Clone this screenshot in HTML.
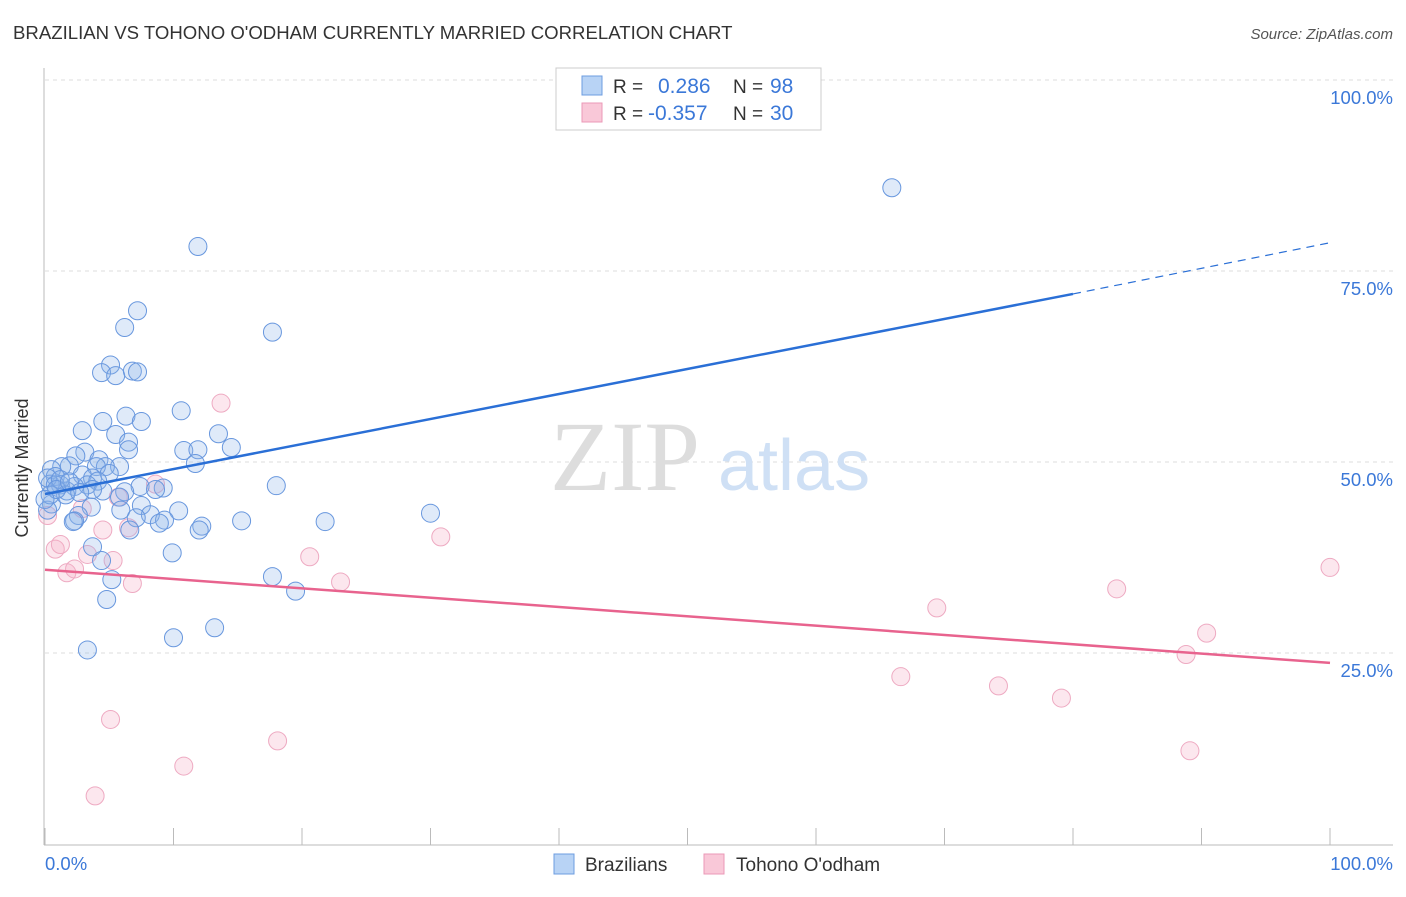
<!DOCTYPE html>
<html><head><meta charset="utf-8"><style>
body{margin:0;background:#fff;font-family:"Liberation Sans",sans-serif}
</style></head><body>
<svg width="1406" height="892" xmlns="http://www.w3.org/2000/svg" font-family="Liberation Sans, sans-serif">
<text x="13" y="39" font-size="18.6" fill="#333">BRAZILIAN VS TOHONO O'ODHAM CURRENTLY MARRIED CORRELATION CHART</text>
<text x="1393" y="39" font-size="15" fill="#555" font-style="italic" text-anchor="end">Source: ZipAtlas.com</text>
<g id="grid"></g>
<text x="700" y="490" font-size="100" fill="#ddd" text-anchor="end" font-family="Liberation Serif, serif">ZIP</text>
<text x="718" y="490" font-size="72" fill="#cfe0f5">atlas</text>
<g id="pts"></g>
<g id="lines"></g>
<text x="15" y="455" font-size="18" fill="#333" transform="rotate(-90 28 455)" text-anchor="middle">Currently Married</text>
<text x="45" y="870" font-size="18.5" fill="#3b78d8">0.0%</text>
<text x="1393" y="870" font-size="18.5" fill="#3b78d8" text-anchor="end">100.0%</text>
<g>
<rect x="556" y="68" width="265" height="62" fill="#fff" stroke="#ccc"/>
<rect x="582" y="76" width="20" height="19" fill="#b8d3f5" stroke="#6d9de0"/>
<rect x="582" y="103" width="20" height="19" fill="#f9c8d8" stroke="#eb99b7"/>
<text x="613" y="93" font-size="19" fill="#333">R = </text><text x="658" y="93" font-size="21" fill="#3b78d8">0.286</text>
<text x="733" y="93" font-size="19" fill="#333">N = </text><text x="770" y="93" font-size="21" fill="#3b78d8">98</text>
<text x="613" y="120" font-size="19" fill="#333">R = </text><text x="648" y="120" font-size="21" fill="#3b78d8">-0.357</text>
<text x="733" y="120" font-size="19" fill="#333">N = </text><text x="770" y="120" font-size="21" fill="#3b78d8">30</text>
</g>
<g>
<rect x="554" y="854" width="20" height="20" fill="#b8d3f5" stroke="#6d9de0"/>
<text x="585" y="871" font-size="19" fill="#333">Brazilians</text>
<rect x="704" y="854" width="20" height="20" fill="#f9c8d8" stroke="#eb99b7"/>
<text x="736" y="871" font-size="19" fill="#333">Tohono O'odham</text>
</g>
</svg>
<script>
const yTicks=[25,50,75,100];
const yTickLabels=["25.0%","50.0%","75.0%","100.0%"];
const xTicks=[0,10,20,30,40,50,60,70,80,90,100];
const blueX=[65.9,11.9,7.2,6.2,17.7,5.1,4.4,5.5,6.8,7.2,10.6,6.3,4.5,7.5,2.9,5.5,13.5,6.5,14.5,10.8,11.9,6.5,3.1,2.4,4.2,11.7,5.8,4.7,4.0,1.9,1.3,0.5,0.8,2.9,3.7,5.0,4.1,3.3,2.3,1.2,0.4,1.7,4.5,3.7,18.0,7.4,9.2,8.6,6.2,5.8,7.5,3.6,5.9,0.5,0.2,10.4,30.0,8.2,2.6,7.1,9.3,8.9,2.3,2.2,15.3,21.8,12.2,12.0,6.6,3.7,9.9,4.4,17.7,5.2,19.5,4.8,13.2,10.0,3.3,0.2,0.8,1.2,1.6,0.4,0.9,1.9,2.7,0.0];
const blueY=[85.9,78.2,69.8,67.6,67.0,62.7,61.7,61.3,61.9,61.8,56.7,56.0,55.3,55.3,54.1,53.6,53.7,52.6,51.9,51.5,51.6,51.6,51.3,50.8,50.3,49.8,49.4,49.4,49.4,49.5,49.4,49.0,48.1,48.3,47.9,48.5,47.5,47.0,46.8,47.0,47.1,46.2,46.2,46.4,46.9,46.8,46.6,46.4,46.1,45.4,44.3,44.1,43.7,44.5,43.7,43.6,43.3,43.1,43.0,42.7,42.4,42.0,42.3,42.2,42.3,42.2,41.6,41.1,41.1,38.9,38.1,37.1,35.0,34.6,33.1,32.0,28.3,27.0,25.4,47.9,47.0,47.7,45.7,45.7,46.4,47.4,46.0,45.1];
const pinkX=[13.7,30.8,8.6,20.6,23.0,4.5,6.5,2.9,5.7,0.2,0.8,1.2,3.3,5.3,1.7,2.3,6.8,5.1,10.8,3.9,18.1,69.4,66.6,74.2,79.1,83.4,90.4,88.8,89.1,100];
const pinkY=[57.7,40.2,47.1,37.6,34.3,41.1,41.4,43.9,45.4,43.0,38.6,39.2,37.9,37.1,35.5,36.0,34.1,16.3,10.2,6.3,13.5,30.9,21.9,20.7,19.1,33.4,27.6,24.8,12.2,36.2];
const blueLine=[[0,45.8],[80,72.0]], blueDash=[[80,72.0],[100,78.7]];
const pinkLine=[[0,35.9],[100,23.7]];
const X=v=>45+v*12.85, Y=v=>844-v*7.64;
const NS="http://www.w3.org/2000/svg";
function mk(t,a,p){const e=document.createElementNS(NS,t);for(const k in a)e.setAttribute(k,a[k]);p.appendChild(e);return e;}
const g=document.getElementById('grid');
yTicks.forEach((t,i)=>{
 const l=mk('line',{x1:45,x2:1393,y1:Y(t),y2:Y(t),stroke:'#ddd','stroke-dasharray':'4,4'},g);
 
 
 const tx=mk('text',{x:1393,y:Y(t)+24,'font-size':18.5,fill:'#3b78d8','text-anchor':'end'},g);
 tx.textContent=yTickLabels[i];
 
 
});
const ax=mk('line',{x1:44,x2:44,y1:68,y2:845,stroke:'#bbb'},g);


const bx=mk('line',{x1:44,x2:1393,y1:845,y2:845,stroke:'#bbb'},g);


xTicks.forEach(t=>{
 const l=mk('line',{x1:X(t),x2:X(t),y1:828,y2:845,stroke:'#bbb'},g);
 
 
});
const p=document.getElementById('pts');
pinkX.forEach((x,i)=>{
 const c=mk('circle',{cx:X(x),cy:Y(pinkY[i]),r:9,fill:'rgba(245,175,200,0.3)',stroke:'#eeaac2','stroke-width':1},p);
 
 
});
blueX.forEach((x,i)=>{
 const c=mk('circle',{cx:X(x),cy:Y(blueY[i]),r:9,fill:'rgba(140,180,235,0.28)',stroke:'#6897de','stroke-width':1},p);
 
 
});
const L=document.getElementById('lines');
const b1=mk('line',{x1:X(blueLine[0][0]),y1:Y(blueLine[0][1]),x2:X(blueLine[1][0]),y2:Y(blueLine[1][1]),stroke:'#2a6fd6','stroke-width':2.5},L);


const b2=mk('line',{x1:X(blueDash[0][0]),y1:Y(blueDash[0][1]),x2:X(blueDash[1][0]),y2:Y(blueDash[1][1]),stroke:'#2a6fd6','stroke-width':1.2,'stroke-dasharray':'8,6'},L);


const p1=mk('line',{x1:X(pinkLine[0][0]),y1:Y(pinkLine[0][1]),x2:X(pinkLine[1][0]),y2:Y(pinkLine[1][1]),stroke:'#e8638e','stroke-width':2.5},L);


</script>
</body></html>
